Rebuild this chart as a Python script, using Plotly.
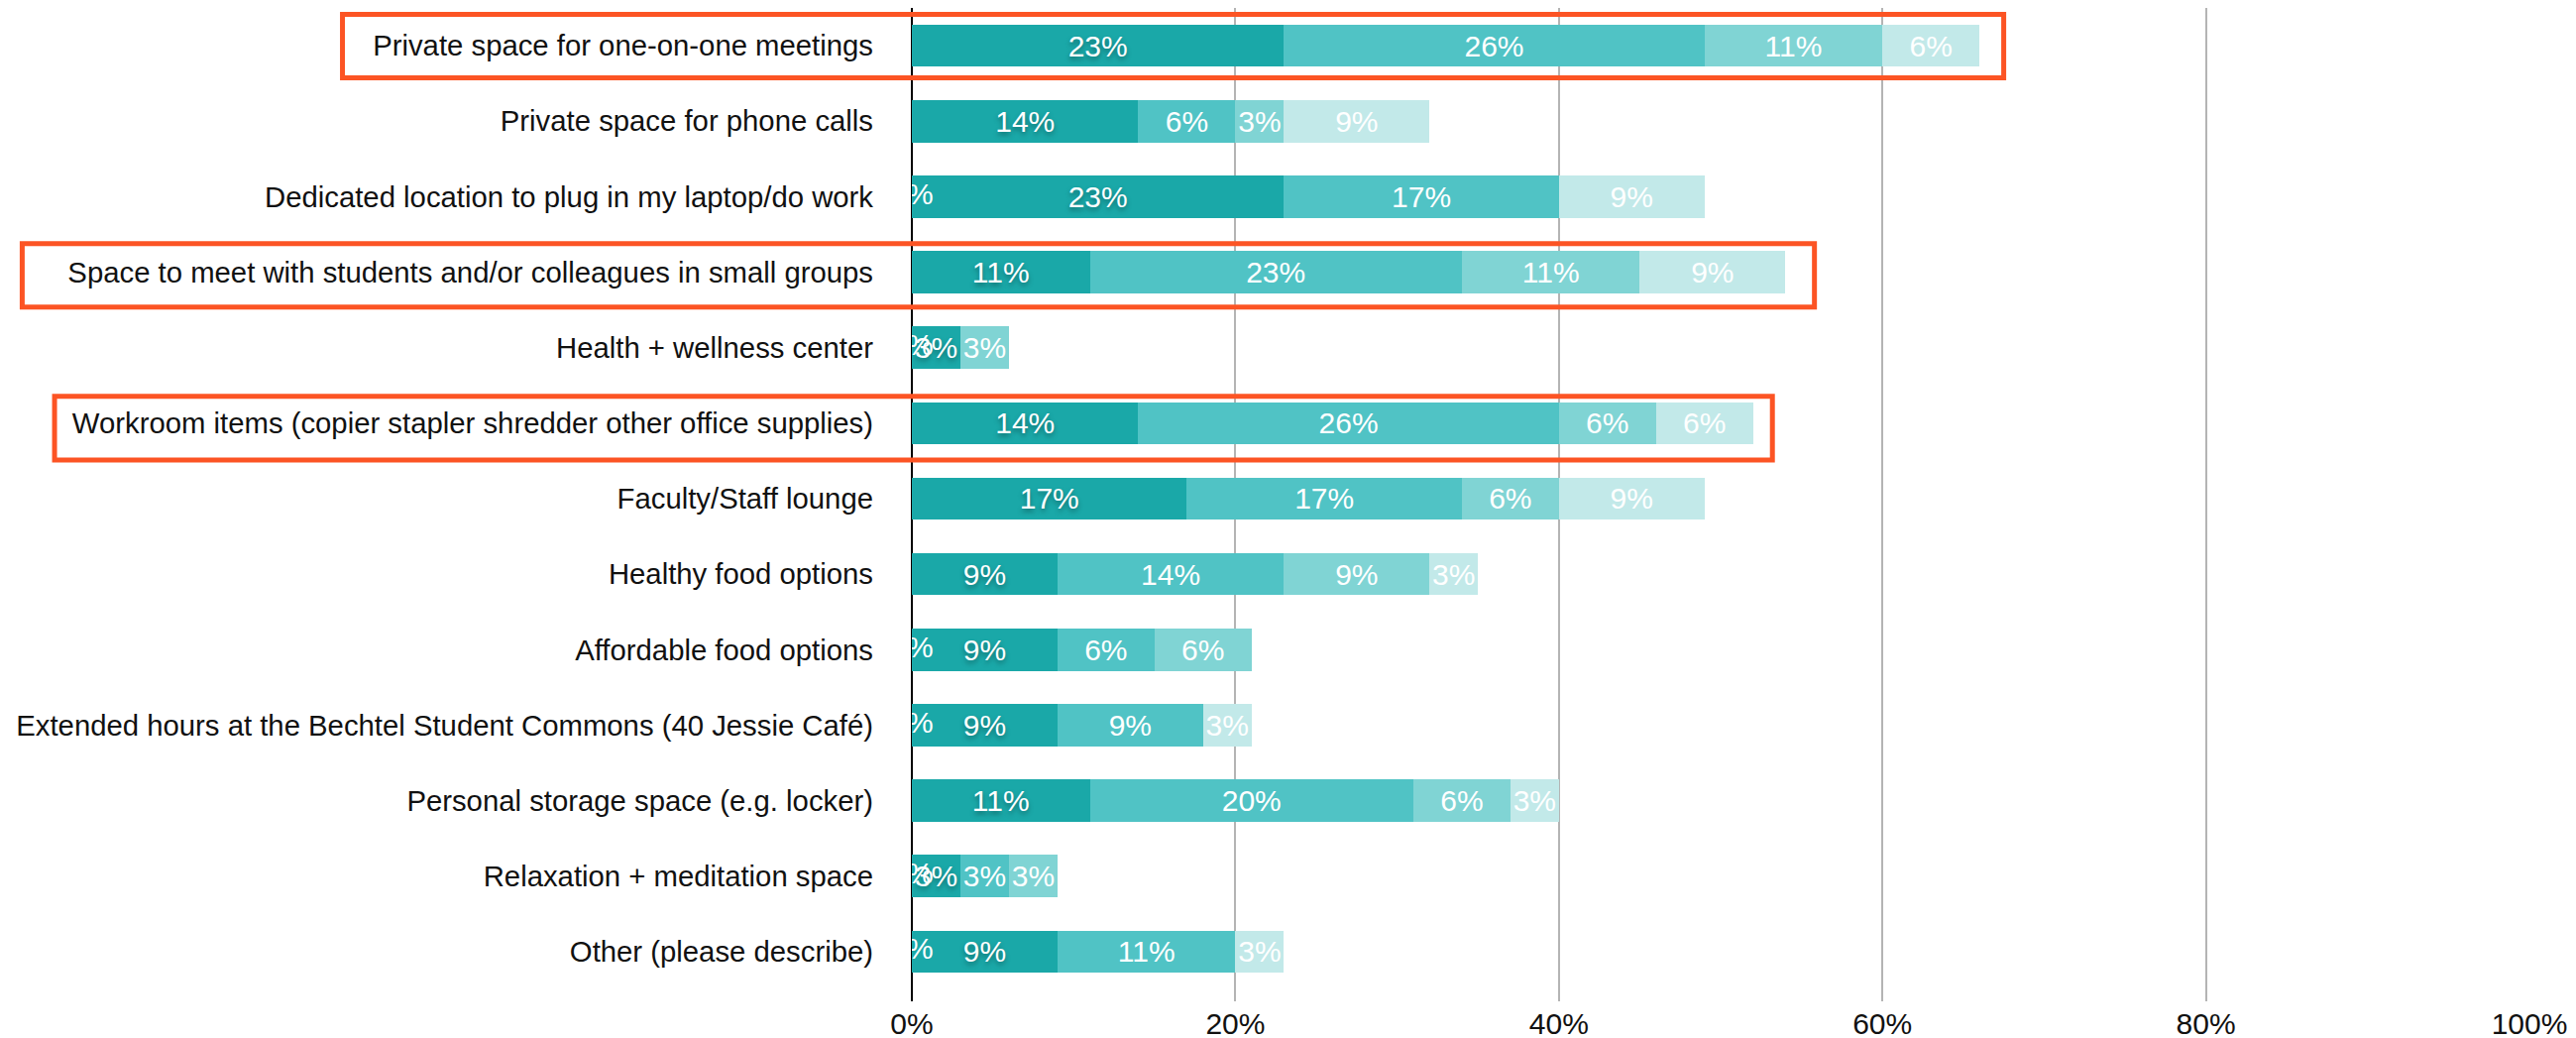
import plotly.graph_objects as go

categories = [
    "Private space for one-on-one meetings",
    "Private space for phone calls",
    "Dedicated location to plug in my laptop/do work",
    "Space to meet with students and/or colleagues in small groups",
    "Health + wellness center",
    "Workroom items (copier stapler shredder other office supplies)",
    "Faculty/Staff lounge",
    "Healthy food options",
    "Affordable food options",
    "Extended hours at the Bechtel Student Commons (40 Jessie Café)",
    "Personal storage space (e.g. locker)",
    "Relaxation + meditation space",
    "Other (please describe)",
]

# percent of respondents per rating, darkest to lightest
zero_vals = [None, None, 0, None, 0, None, None, None, 0, 0, None, 0, 0]
dark_vals = [23, 14, 23, 11, 3, 14, 17, 9, 9, 9, 11, 3, 9]
mid_vals = [26, 6, 17, 23, None, 26, 17, 14, 6, 9, 20, 3, 11]
light_vals = [11, 3, None, 11, 3, 6, 6, 9, 6, None, 6, 3, None]
pale_vals = [6, 9, 9, 9, None, 6, 9, 3, None, 3, 3, None, 3]

x_ticks = [0, 20, 40, 60, 80, 100]

# rows outlined in orange: (row index, left edge, right edge) in paper units
highlights = [(0, -0.352, 0.675), (3, -0.550, 0.558), (5, -0.530, 0.532)]

FONT = "Liberation Sans, Arial, Helvetica, sans-serif"
series = [
    (dark_vals, "#1aa8a8", "0px 3px 5px rgba(0,0,0,0.35)"),
    (mid_vals, "#50c3c5", "none"),
    (light_vals, "#80d4d4", "none"),
    (pale_vals, "#c2e9e9", "none"),
]

fig = go.Figure()

for vals, color, shadow in series:
    fig.add_trace(go.Bar(
        y=categories,
        x=vals,
        orientation="h",
        marker=dict(color=color, line=dict(width=0)),
        text=[f"{v}%" if v is not None else "" for v in vals],
        textposition="inside",
        insidetextanchor="middle",
        textangle=0,
        textfont=dict(family=FONT, size=30, color="white", shadow=shadow),
        showlegend=False,
    ))

# zero-width segments still carry a "0%" label, half hidden at the axis
zero_rows = [c for c, v in zip(categories, zero_vals) if v is not None]
fig.add_trace(go.Scatter(
    y=zero_rows,
    x=[0] * len(zero_rows),
    mode="text",
    text=["0%"] * len(zero_rows),
    textposition="middle center",
    textfont=dict(family=FONT, size=30, color="white"),
    cliponaxis=True,
    showlegend=False,
))

n = len(categories)
for row, x0, x1 in highlights:
    yc = 1 - (row + 0.5) / n
    fig.add_shape(
        type="rect", xref="paper", yref="paper",
        x0=x0, x1=x1, y0=yc - 0.032, y1=yc + 0.032,
        line=dict(color="#fc5424", width=5),
        fillcolor="rgba(0,0,0,0)",
        layer="above",
    )

# the page body adds an 8px offset, margins account for it
fig.update_layout(
    width=2599,
    height=1047,
    barmode="stack",
    bargap=0.44,
    margin=dict(l=912, r=55, t=0, b=45, autoexpand=False),
    plot_bgcolor="white",
    paper_bgcolor="white",
    font=dict(family=FONT, size=30, color="#111111"),
    uniformtext=dict(minsize=30, mode="show"),
    xaxis=dict(
        range=[0, 100],
        tickvals=x_ticks,
        ticktext=[f"{t}%" for t in x_ticks],
        showgrid=True,
        gridcolor="#b4b4b4",
        gridwidth=2,
        zeroline=True,
        zerolinecolor="#000000",
        zerolinewidth=2,
        showline=False,
        ticks="",
        ticklabelstandoff=2,
        tickfont=dict(size=30, color="#111111"),
        automargin=False,
        fixedrange=True,
    ),
    yaxis=dict(
        autorange="reversed",
        showgrid=False,
        zeroline=False,
        showline=False,
        ticks="",
        ticklabelstandoff=38,
        tickfont=dict(size=29.3, color="#111111"),
        automargin=False,
        fixedrange=True,
    ),
)

fig.write_html("out.html")
